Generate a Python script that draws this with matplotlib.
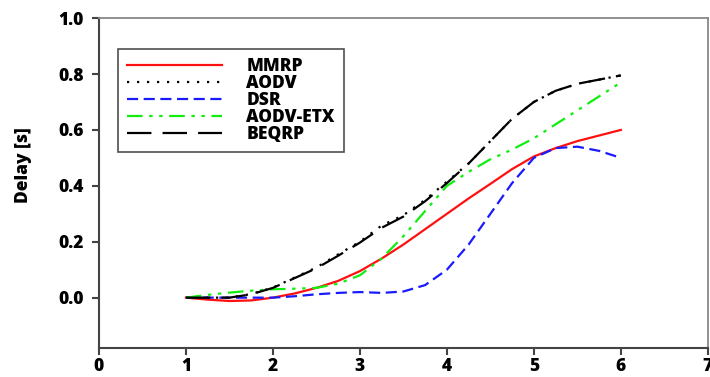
import matplotlib
matplotlib.use("Agg")
import matplotlib.pyplot as plt

plt.rcParams['font.family'] = ['Open Sans', 'DejaVu Sans']
plt.rcParams['font.weight'] = 'bold'

x = [1.0, 1.25, 1.5, 1.75, 2.0, 2.25, 2.5, 2.75, 3.0, 3.25, 3.5,
     3.75, 4.0, 4.25, 4.5, 4.75, 5.0, 5.25, 5.5, 5.75, 6.0]

mmrp = [0.0, -0.007, -0.012, -0.01, 0.0, 0.015, 0.035, 0.06, 0.095, 0.14, 0.19,
        0.245, 0.3, 0.355, 0.407, 0.46, 0.505, 0.535, 0.56, 0.58, 0.6]
aodv = [0.0, 0.0, 0.0, 0.013, 0.036, 0.072, 0.108, 0.155, 0.2, 0.258, 0.295,
        0.35, 0.415, 0.48, 0.56, 0.64, 0.7, 0.74, 0.765, 0.78, 0.795]
dsr = [0.0, 0.0, 0.0, 0.0, 0.0, 0.005, 0.012, 0.017, 0.02, 0.017, 0.022,
       0.045, 0.1, 0.19, 0.3, 0.41, 0.5, 0.535, 0.54, 0.525, 0.5]
aodv_etx = [0.0, 0.01, 0.018, 0.025, 0.03, 0.032, 0.035, 0.05, 0.08, 0.14, 0.22,
            0.31, 0.4, 0.45, 0.495, 0.53, 0.57, 0.62, 0.67, 0.72, 0.77]
beqrp = [0.0, 0.0, 0.0, 0.012, 0.035, 0.07, 0.105, 0.15, 0.197, 0.25, 0.29,
         0.345, 0.41, 0.48, 0.56, 0.64, 0.7, 0.74, 0.765, 0.78, 0.795]

fig = plt.figure(figsize=(7.1, 3.77), dpi=100)
ax = fig.add_axes([0.1394, 0.077, 0.8576, 0.875])

ax.plot(x, mmrp, color="#ff1010", lw=1.6, label="MMRP")
ax.plot(x, aodv, color="black", lw=1.6, linestyle=(0, (1, 3.5)), label="AODV")
ax.plot(x, dsr, color="#1a1aff", lw=1.6, linestyle=(0, (5, 2.5)), label="DSR")
ax.plot(x, aodv_etx, color="#10ee10", lw=1.6, linestyle=(0, (7, 3, 1.5, 3, 1.5, 3)), label="AODV-ETX")
ax.plot(x, beqrp, color="black", lw=1.6, linestyle=(0, (11, 5)), label="BEQRP")

ax.set_xlim(0, 7)
ax.set_ylim(-0.18, 1.0)
ax.set_xticks(range(0, 8))
ax.set_yticks([0.0, 0.2, 0.4, 0.6, 0.8, 1.0])
ax.set_yticklabels(["0.0", "0.2", "0.4", "0.6", "0.8", "1.0"])

for s in ["left", "bottom"]:
    ax.spines[s].set_color("#444444")
    ax.spines[s].set_linewidth(1.5)
for s in ["top", "right"]:
    ax.spines[s].set_color("#888888")
    ax.spines[s].set_linewidth(1.3)

ax.tick_params(direction="out", length=5, width=1.5, color="#444444",
               labelsize=12.5)
ax.tick_params(axis="x", pad=2)
ax.tick_params(axis="y", pad=6)
for lab in ax.get_xticklabels() + ax.get_yticklabels():
    lab.set_fontweight(800)

ax.set_ylabel("Delay [s]", fontsize=12.5, fontweight=800)
ax.yaxis.set_label_coords(-0.11, 0.555)

leg = ax.legend(loc="upper left", bbox_to_anchor=(0.031, 0.905), fontsize=12.5,
                frameon=True, fancybox=False, handlelength=5.5, handletextpad=1.4,
                labelspacing=0.0, borderpad=0.5, borderaxespad=0)
leg.get_frame().set_edgecolor("#222222")
leg.get_frame().set_linewidth(1.2)
for t in leg.get_texts():
    t.set_fontweight(800)

fig.savefig("out.png", dpi=100)
